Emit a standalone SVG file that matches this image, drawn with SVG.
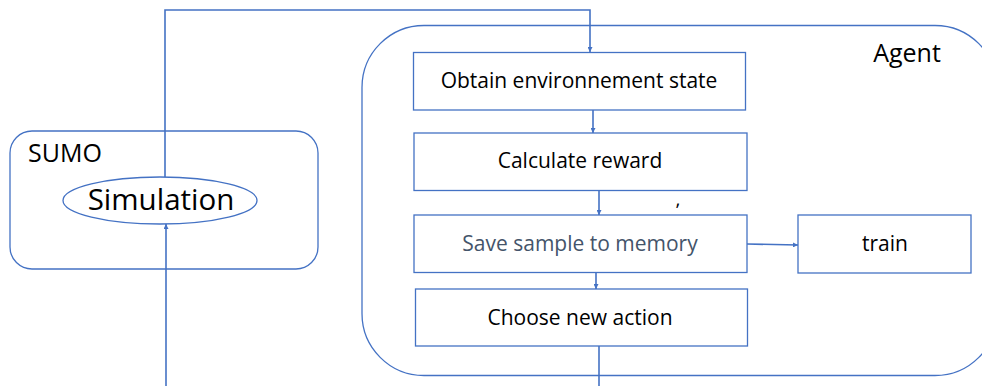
<svg xmlns="http://www.w3.org/2000/svg" width="982" height="386" viewBox="0 0 982 386">
<defs>
<style>
.box{fill:#fff;stroke:#4472C4;stroke-width:1.3}
.cont{fill:none;stroke:#4472C4;stroke-width:1.3}
.ln{fill:none;stroke:#4472C4;stroke-width:1.6}
.t{font-family:"Open Sans","Noto Sans",sans-serif;fill:#000;text-anchor:middle}
</style>
<marker id="ah" viewBox="0 0 10 10" refX="10" refY="5" markerWidth="5" markerHeight="5" orient="auto" markerUnits="userSpaceOnUse">
<path d="M0,0 L10,5 L0,10 z" fill="#4472C4"/>
</marker>
</defs>
<rect width="982" height="386" fill="#fff"/>
<g id="agent">
<rect class="cont" x="362" y="25.5" width="635" height="350" rx="62" ry="62"/>
<text class="t" x="907" y="62" font-size="25">Agent</text>
</g>
<g id="sumo">
<rect class="cont" x="10" y="131" width="308" height="138" rx="22" ry="22"/>
<text class="t" x="28" y="162" font-size="25" style="text-anchor:start">SUMO</text>
</g>
<g id="simulation">
<ellipse class="box" cx="160" cy="200.5" rx="97" ry="23.5"/>
<text class="t" x="161" y="210" font-size="29.5">Simulation</text>
</g>
<g id="obtain">
<rect class="box" x="413.5" y="52.5" width="332" height="57.5"/>
<text class="t" x="579" y="88" font-size="21">Obtain environnement state</text>
</g>
<g id="calculate">
<rect class="box" x="414" y="133" width="333" height="57.5"/>
<text class="t" x="580" y="168" font-size="21">Calculate reward</text>
</g>
<g id="save">
<rect class="box" x="414" y="215" width="333" height="57.5"/>
<text class="t" x="580" y="251" font-size="21" style="fill:#44546A">Save sample to memory</text>
</g>
<g id="choose">
<rect class="box" x="415.5" y="289" width="332" height="57"/>
<text class="t" x="580" y="325" font-size="21">Choose new action</text>
</g>
<g id="train">
<rect class="box" x="798" y="215" width="173" height="58"/>
<text class="t" x="885" y="251" font-size="21">train</text>
</g>
<text class="t" x="678" y="206" font-size="19">,</text>
<g id="connectors">
<path class="ln" d="M165,177 V10 H590 V52" marker-end="url(#ah)"/>
<path class="ln" d="M166,386 V224" marker-end="url(#ah)"/>
<path class="ln" d="M593,110 V133" marker-end="url(#ah)"/>
<path class="ln" d="M599,191 V215" marker-end="url(#ah)"/>
<path class="ln" d="M596,273 V289" marker-end="url(#ah)"/>
<path class="ln" d="M747,244 L798,245" marker-end="url(#ah)"/>
<path class="ln" d="M599,346 V386"/>
</g>
</svg>
